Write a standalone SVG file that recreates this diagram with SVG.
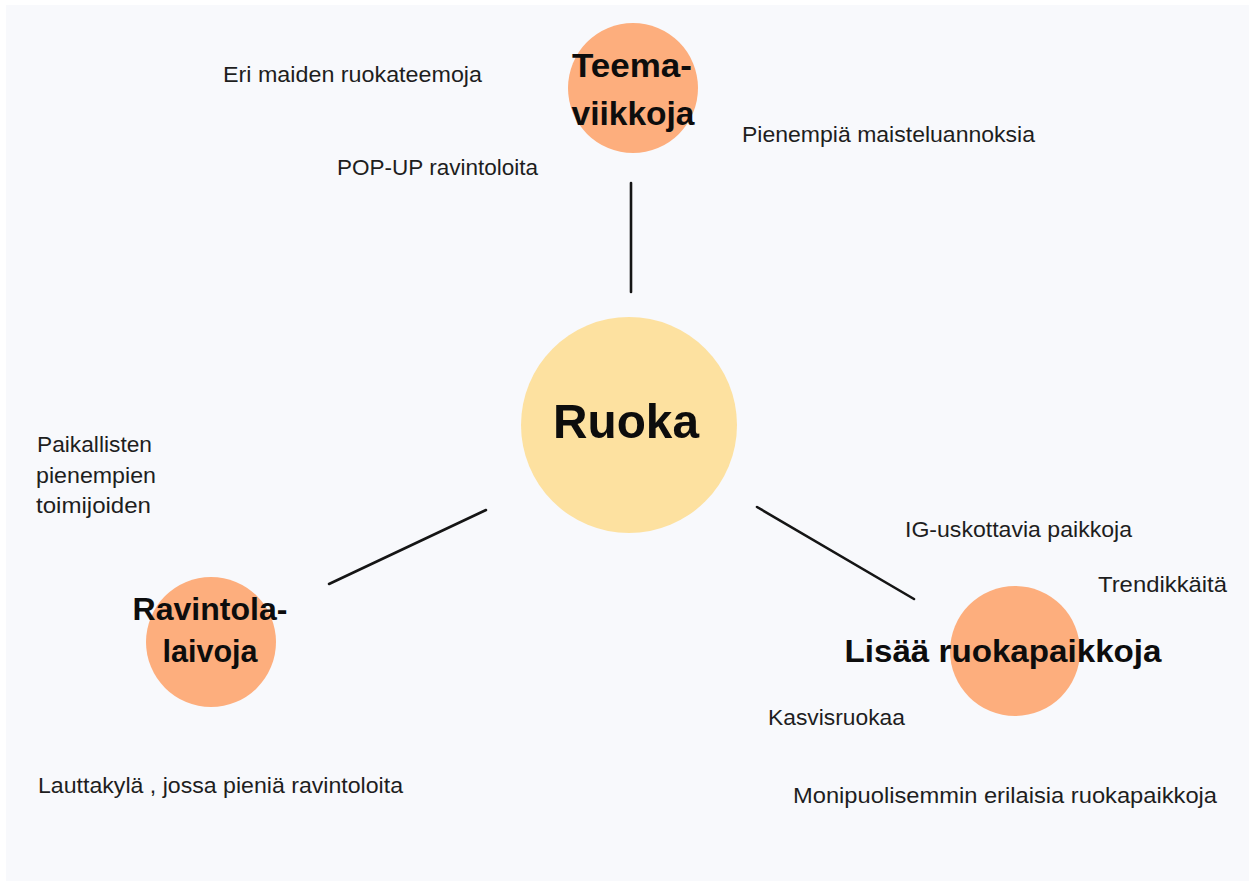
<svg xmlns="http://www.w3.org/2000/svg" width="1249" height="881" viewBox="0 0 1249 881">
<style>
.bg{fill:#f8f9fc}
.hub{fill:#fde1a0}
.sat{fill:#fdae7d}
.edge{stroke:#151515;stroke-width:2.6;fill:none;stroke-linecap:round}
.title{font-family:"Liberation Sans",Arial,sans-serif;font-weight:bold;fill:#0d0d0d;text-anchor:middle}
.lbl{font-family:"Liberation Sans",Arial,sans-serif;font-size:22px;fill:#1e1e1e}
</style>
<rect x="0" y="0" width="1249" height="881" fill="#ffffff"/>
<rect class="bg" x="6" y="5" width="1243" height="876"/>
<g id="connectors">
<line class="edge" x1="631" y1="183" x2="631" y2="292"/>
<line class="edge" x1="329" y1="584" x2="486" y2="510"/>
<line class="edge" x1="757" y1="507" x2="914" y2="599"/>
</g>
<g id="node-ruoka">
<circle class="hub" cx="629" cy="425" r="108"/>
<text class="title" x="626" y="438" font-size="49" textLength="146" lengthAdjust="spacingAndGlyphs">Ruoka</text>
</g>
<g id="node-teemaviikkoja">
<circle class="sat" cx="633" cy="88" r="65"/>
<text class="title" x="632" y="77" font-size="34" textLength="120" lengthAdjust="spacingAndGlyphs">Teema-</text>
<text class="title" x="633" y="125" font-size="34" textLength="123" lengthAdjust="spacingAndGlyphs">viikkoja</text>
</g>
<g id="node-ravintolalaivoja">
<circle class="sat" cx="211" cy="642" r="65"/>
<text class="title" x="210" y="620" font-size="31" textLength="155" lengthAdjust="spacingAndGlyphs">Ravintola-</text>
<text class="title" x="210" y="662" font-size="31" textLength="95" lengthAdjust="spacingAndGlyphs">laivoja</text>
</g>
<g id="node-lisaa">
<circle class="sat" cx="1015" cy="651" r="65"/>
<text class="title" x="1003" y="662" font-size="32" textLength="317" lengthAdjust="spacingAndGlyphs">Lisää ruokapaikkoja</text>
</g>
<g id="labels">
<text class="lbl" x="223" y="82" textLength="259" lengthAdjust="spacingAndGlyphs">Eri maiden ruokateemoja</text>
<text class="lbl" x="337" y="175" textLength="201" lengthAdjust="spacingAndGlyphs">POP-UP ravintoloita</text>
<text class="lbl" x="742" y="142" textLength="293" lengthAdjust="spacingAndGlyphs">Pienempiä maisteluannoksia</text>
<text class="lbl" x="37" y="452" textLength="115" lengthAdjust="spacingAndGlyphs">Paikallisten</text>
<text class="lbl" x="36" y="483" textLength="120" lengthAdjust="spacingAndGlyphs">pienempien</text>
<text class="lbl" x="36" y="513" textLength="115" lengthAdjust="spacingAndGlyphs">toimijoiden</text>
<text class="lbl" x="905" y="537" textLength="227" lengthAdjust="spacingAndGlyphs">IG-uskottavia paikkoja</text>
<text class="lbl" x="1098" y="592" textLength="129" lengthAdjust="spacingAndGlyphs">Trendikkäitä</text>
<text class="lbl" x="38" y="793" textLength="365" lengthAdjust="spacingAndGlyphs">Lauttakylä , jossa pieniä ravintoloita</text>
<text class="lbl" x="768" y="725" textLength="137" lengthAdjust="spacingAndGlyphs">Kasvisruokaa</text>
<text class="lbl" x="793" y="803" textLength="424" lengthAdjust="spacingAndGlyphs">Monipuolisemmin erilaisia ruokapaikkoja</text>
</g>
</svg>
